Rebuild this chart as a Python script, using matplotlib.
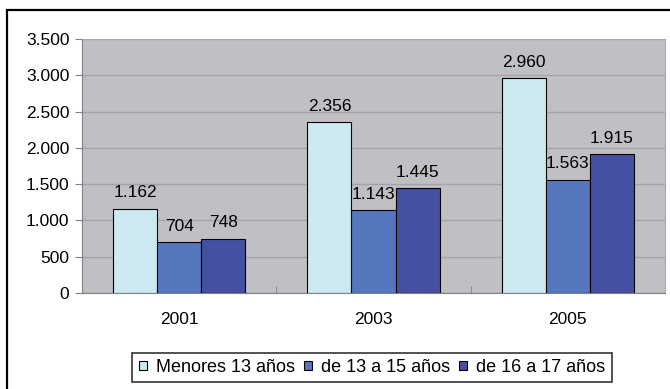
import matplotlib
matplotlib.use("Agg")
import matplotlib.pyplot as plt
import numpy as np
from matplotlib.patches import Rectangle

plt.rcParams['font.family'] = ['Liberation Sans', 'DejaVu Sans']

years = ["2001", "2003", "2005"]
menores13 = [1162, 2356, 2960]
de13a15 = [704, 1143, 1563]
de16a17 = [748, 1445, 1915]
series_names = ["Menores 13 años", "de 13 a 15 años", "de 16 a 17 años"]
colors = ["#CCE9F1", "#5577BD", "#4650A0"]


def fmt(v):
    # thousands separator as a dot
    return f"{v:,}".replace(",", ".")


fig = plt.figure(figsize=(6.7, 3.89), dpi=100)
fig.patch.set_facecolor("white")

# outer chart frame, runs past the right and bottom edges
fig.patches.append(Rectangle((7 / 670, -0.05), 1.2, 1 - 10 / 389 + 0.05,
                             transform=fig.transFigure, fill=False,
                             edgecolor="black", linewidth=1.6))

ax = fig.add_axes([82 / 670, 1 - 293 / 389, (665 - 82) / 670, (293 - 39) / 389])
ax.set_facecolor("#C0C0C4")

x = np.arange(len(years))
w = 0.227
all_series = [menores13, de13a15, de16a17]
for i, (vals, name, c) in enumerate(zip(all_series, series_names, colors)):
    pos = x + (i - 1) * w
    ax.bar(pos, vals, width=w, color=c, edgecolor="black", linewidth=0.8,
           label=name, zorder=3 + i)
    for px, v in zip(pos, vals):
        ax.annotate(fmt(v), (px, v), xytext=(0, 6), textcoords="offset points",
                    ha="center", va="bottom", fontsize=12.5, zorder=2.5 + i)

ax.set_xlim(-0.5, 2.5)
ax.set_ylim(0, 3500)
ax.set_yticks(np.arange(0, 3501, 500))
ax.set_yticklabels([fmt(v) for v in range(0, 3501, 500)], fontsize=12.5)
ax.set_xticks(x)
ax.set_xticklabels(years, fontsize=12.5)
ax.tick_params(axis="x", length=0, pad=14)
ax.set_xticks([0.5, 1.5, 2.5], minor=True)
ax.tick_params(axis="x", which="minor", length=5, color="#808080", direction="in")
ax.tick_params(axis="y", length=5, color="#808080", pad=4)
ax.yaxis.grid(True, color="#A4A4A8", linewidth=1.0, zorder=1)
ax.set_axisbelow(True)
for s in ["top", "right"]:
    ax.spines[s].set_color("#A8A8A8")
for s in ["left", "bottom"]:
    ax.spines[s].set_color("#808080")

leg = fig.legend(loc="center", bbox_to_anchor=(372 / 670, 1 - 367.5 / 389),
                 ncol=3, fontsize=13, frameon=True, fancybox=False,
                 edgecolor="black", handlelength=0.45, handleheight=0.45,
                 handletextpad=0.5, columnspacing=0.5, borderpad=0.35,
                 borderaxespad=0)
leg.get_frame().set_linewidth(1.2)

fig.savefig("out.png", dpi=100)
